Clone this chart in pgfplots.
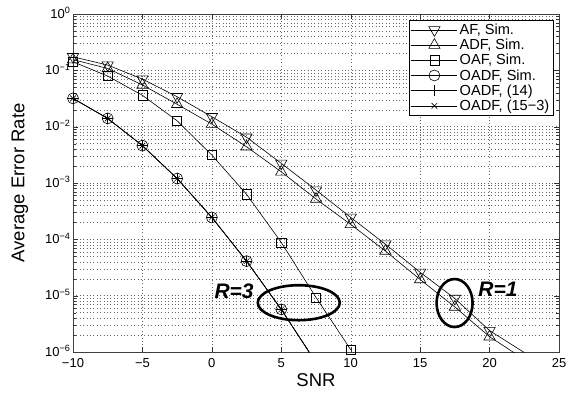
\documentclass[border=0pt]{standalone}
\usepackage{fontspec}
\setmainfont{Liberation Sans}
\usepackage{pgfplots}
\pgfplotsset{compat=1.18}

\begin{document}
\begin{tikzpicture}
\begin{axis}[
  scale only axis, width=486pt, height=338pt,
  xmin=-10, xmax=25, ymode=log, ymin=1e-6, ymax=1,
  xtick={-10,-5,0,5,10,15,20,25},
  xticklabels={−10,−5,0,5,10,15,20,25},
  ytick={1e-6,1e-5,1e-4,1e-3,1e-2,1e-1,1},
  yticklabels={10\textsuperscript{−6},10\textsuperscript{−5},10\textsuperscript{−4},10\textsuperscript{−3},10\textsuperscript{−2},10\textsuperscript{−1},10\textsuperscript{0}},
  ticklabel style={font=\fontsize{13}{14}\selectfont},
  xticklabel style={yshift=-3pt},
  yticklabel style={xshift=1pt, yshift=1pt},
  grid=both,
  major grid style={black!60, dash pattern=on 0.8pt off 2.6pt},
  minor grid style={black!60, dash pattern=on 0.8pt off 2.6pt},
  tick align=inside,
  major tick length=5pt, minor tick length=3pt,
  tick style={black!80},
  axis line style={black!75, line width=0.8pt},
  xlabel={SNR}, ylabel={Average Error Rate},
  every axis x label/.style={at={(axis description cs:0.5,-0.083)}, anchor=center, font=\fontsize{18.5}{20}\selectfont},
  every axis y label/.style={at={(axis description cs:-0.109,0.5)}, rotate=90, anchor=center, font=\fontsize{18.5}{20}\selectfont},
  every axis plot/.append style={black, line width=0.6pt},
  mark options={solid},
  legend image code/.code={
    \draw[#1, mark indices={2}] plot coordinates {(0pt,0pt) (23pt,0pt) (46pt,0pt)};
  },
  legend style={at={(rel axis cs:0.988,0.982)}, anchor=north east,
    font=\fontsize{14.6}{15.5}\selectfont, draw=black, line width=0.6pt,
    inner sep=1.5pt, row sep=-0.9pt, cells={anchor=west}},
]
\addplot[mark=triangle, mark size=6.5pt, mark options={rotate=180}] coordinates {
(-10,0.174) (-7.5,0.124) (-5,0.070) (-2.5,0.034) (0,0.015) (2.5,0.0065) (5,0.00223)
(7.5,7.5e-4) (10,2.45e-4) (12.5,8.2e-5) (15,2.6e-5) (17.5,8.9e-6) (20,2.4e-6) (22.5,9.8e-7)};
\addlegendentry{AF, Sim.}
\addplot[mark=triangle, mark size=6.5pt, mark indices={1,2,3,4,5,6,7,8,9,10,11,12,13}] coordinates {
(-10,0.155) (-7.5,0.108) (-5,0.055) (-2.5,0.025) (0,0.0111) (2.5,0.0044) (5,0.00158)
(7.5,5.2e-4) (10,1.84e-4) (12.5,6.2e-5) (15,1.94e-5) (17.5,6.3e-6) (20,1.87e-6) (22.5,7.4e-7)};
\addlegendentry{ADF, Sim.}
\addplot[mark=square, mark size=4.6pt] coordinates {
(-10,0.142) (-7.5,0.079) (-5,0.036) (-2.5,0.0127) (0,0.00313) (2.5,6.3e-4) (5,8.8e-5)
(7.5,9.3e-6) (10,1.1e-6)};
\addlegendentry{OAF, Sim.}
\addplot[mark=o, mark size=5.5pt, mark indices={1,2,3,4,5,6,7}] coordinates {
(-10,0.0318) (-7.5,0.014) (-5,0.0046) (-2.5,0.0012) (0,2.45e-4) (2.5,4.1e-5) (5,5.7e-6) (7.5,6.5e-7)};
\addlegendentry{OADF, Sim.}
\addplot[mark=+, mark size=5.5pt, mark indices={1,2,3,4,5,6,7}] coordinates {
(-10,0.0318) (-7.5,0.014) (-5,0.0046) (-2.5,0.0012) (0,2.45e-4) (2.5,4.1e-5) (5,5.7e-6) (7.5,6.5e-7)};
\addlegendentry{OADF, (14)}
\addplot[mark=x, mark size=4pt, mark indices={1,2,3,4,5,6,7}] coordinates {
(-10,0.0318) (-7.5,0.014) (-5,0.0046) (-2.5,0.0012) (0,2.45e-4) (2.5,4.1e-5) (5,5.7e-6) (7.5,6.5e-7)};
\addlegendentry{OADF, (15−3)}

\draw[line width=2.6pt] (axis cs:6.26,7.5e-6) ellipse [x radius=41pt, y radius=17.5pt];
\draw[line width=2.6pt] (axis cs:17.48,7.4e-6) ellipse [x radius=18pt, y radius=24pt];
\node[font=\fontsize{21}{22}\selectfont\bfseries\itshape] at (axis cs:1.6,1.2e-5) {R=3};
\node[font=\fontsize{21}{22}\selectfont\bfseries\itshape] at (axis cs:20.6,1.3e-5) {R=1};
\end{axis}
\pgfresetboundingbox
\path[use as bounding box] ([shift={(-73pt,-40pt)}]current axis.south west) rectangle ([shift={(15pt,14pt)}]current axis.north east);
\end{tikzpicture}
\end{document}
